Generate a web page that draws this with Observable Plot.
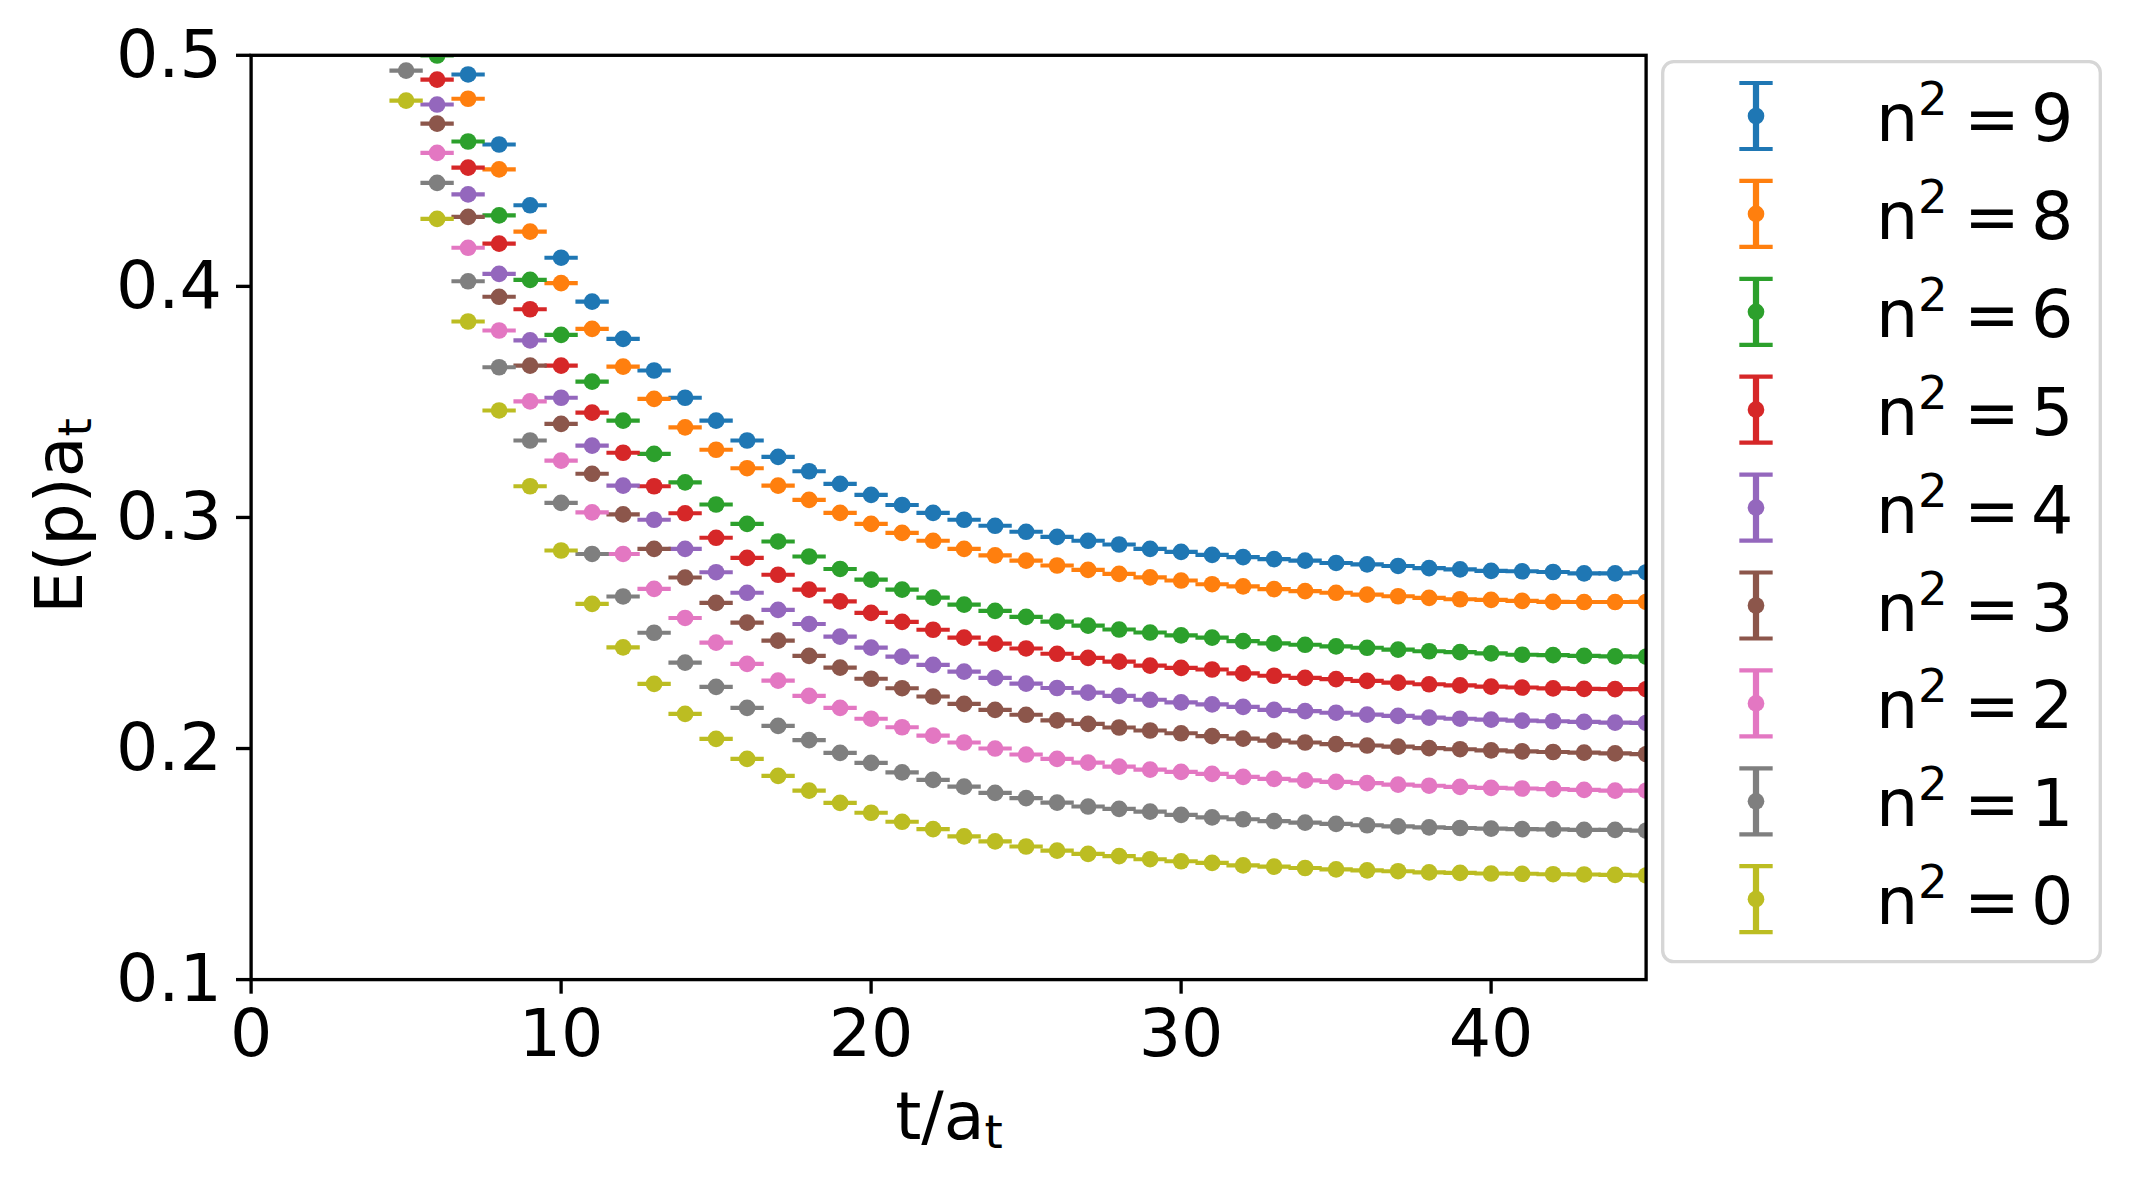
<!DOCTYPE html>
<html><head><meta charset="utf-8">
<script src="https://cdn.jsdelivr.net/npm/d3@7"></script>
<script src="https://cdn.jsdelivr.net/npm/@observablehq/plot@0.6"></script>
<style>html,body{margin:0;padding:0;background:#fff;overflow:hidden}</style>
</head><body><div id="chart"></div>
<script>
// ---- data ----
const labels = ["9","8","6","5","4","3","2","1","0"];
const colors = ["#1f77b4","#ff7f0e","#2ca02c","#d62728","#9467bd","#8c564b","#e377c2","#7f7f7f","#bcbd22"];
const tStart = [7,7,6,6,6,6,6,5,5];
const e9 = [0.4917,0.4614,0.4351,0.4124,0.3934,0.3773,0.3636,0.3518,0.3419,0.3333,0.3262,0.3200,0.3145,0.3098,0.3054,0.3020,0.2990,0.2964,0.2938,0.2916,0.2899,0.2883,0.2864,0.2851,0.2838,0.2828,0.2820,0.2813,0.2803,0.2797,0.2790,0.2781,0.2775,0.2769,0.2767,0.2764,0.2758,0.2758,0.2763];
const e8 = [0.4812,0.4506,0.4237,0.4014,0.3816,0.3653,0.3513,0.3390,0.3293,0.3213,0.3138,0.3076,0.3020,0.2972,0.2933,0.2899,0.2864,0.2836,0.2813,0.2792,0.2773,0.2756,0.2741,0.2727,0.2711,0.2702,0.2690,0.2681,0.2674,0.2666,0.2659,0.2652,0.2646,0.2643,0.2639,0.2635,0.2634,0.2634,0.2635];
const e6 = [0.4999,0.4627,0.4307,0.4028,0.3790,0.3588,0.3419,0.3275,0.3152,0.3056,0.2972,0.2896,0.2831,0.2777,0.2731,0.2688,0.2653,0.2623,0.2596,0.2570,0.2549,0.2532,0.2515,0.2502,0.2490,0.2480,0.2465,0.2455,0.2449,0.2442,0.2436,0.2428,0.2421,0.2417,0.2412,0.2406,0.2404,0.2401,0.2399,0.2398];
const e5 = [0.4895,0.4514,0.4185,0.3901,0.3657,0.3454,0.3280,0.3135,0.3018,0.2912,0.2825,0.2752,0.2688,0.2637,0.2587,0.2548,0.2514,0.2480,0.2454,0.2433,0.2410,0.2392,0.2376,0.2359,0.2349,0.2342,0.2325,0.2315,0.2306,0.2300,0.2293,0.2285,0.2278,0.2273,0.2268,0.2264,0.2260,0.2258,0.2257,0.2257];
const e4 = [0.4787,0.4398,0.4054,0.3766,0.3518,0.3311,0.3138,0.2990,0.2864,0.2763,0.2674,0.2600,0.2539,0.2484,0.2437,0.2398,0.2362,0.2333,0.2306,0.2281,0.2262,0.2242,0.2228,0.2211,0.2200,0.2191,0.2180,0.2167,0.2162,0.2155,0.2147,0.2141,0.2134,0.2129,0.2125,0.2121,0.2118,0.2115,0.2112,0.2111];
const e3 = [0.4704,0.4301,0.3955,0.3657,0.3405,0.3189,0.3013,0.2864,0.2740,0.2630,0.2545,0.2467,0.2401,0.2350,0.2302,0.2261,0.2225,0.2193,0.2167,0.2146,0.2122,0.2107,0.2091,0.2078,0.2066,0.2054,0.2043,0.2034,0.2026,0.2019,0.2013,0.2008,0.2002,0.1997,0.1992,0.1988,0.1985,0.1982,0.1979,0.1976];
const e2 = [0.4578,0.4167,0.3809,0.3502,0.3246,0.3022,0.2842,0.2691,0.2565,0.2458,0.2366,0.2294,0.2228,0.2176,0.2129,0.2092,0.2056,0.2026,0.2000,0.1974,0.1955,0.1939,0.1922,0.1909,0.1899,0.1890,0.1877,0.1869,0.1862,0.1856,0.1850,0.1844,0.1839,0.1834,0.1830,0.1827,0.1824,0.1821,0.1818,0.1818];
const e1 = [0.4934,0.4448,0.4022,0.3650,0.3333,0.3063,0.2842,0.2658,0.2501,0.2372,0.2267,0.2176,0.2098,0.2036,0.1981,0.1938,0.1897,0.1864,0.1835,0.1808,0.1785,0.1766,0.1749,0.1739,0.1727,0.1713,0.1702,0.1694,0.1686,0.1679,0.1674,0.1668,0.1663,0.1659,0.1656,0.1653,0.1651,0.1650,0.1648,0.1648,0.1645];
const e0 = [0.4804,0.4292,0.3848,0.3463,0.3135,0.2857,0.2626,0.2438,0.2280,0.2150,0.2042,0.1955,0.1882,0.1818,0.1765,0.1722,0.1683,0.1651,0.1620,0.1598,0.1576,0.1558,0.1544,0.1534,0.1521,0.1512,0.1505,0.1494,0.1489,0.1483,0.1477,0.1473,0.1469,0.1464,0.1462,0.1459,0.1458,0.1456,0.1455,0.1453,0.1451];
const xTicks = [0,10,20,30,40];
const yTicks = [0.1,0.2,0.3,0.4,0.5];
const xLabel = ["t/a","t"];
const yLabel = ["E(p)a","t"];

// ---- build ----
const series = [e9,e8,e6,e5,e4,e3,e2,e1,e0];
const rows = series.flatMap((vals,i)=>vals.map((v,k)=>({n2:labels[i], t:tStart[i]+k, E:v})));

const W=2129, H=1182, mL=250.6, mR=483.4, mT=54.8, mB=202.9;
const PX = 300/72;
const fs = 16*PX;
const FONT = "DejaVu Sans";

const capSymbol = {draw(ctx,size){const w=Math.sqrt(size/Math.PI); ctx.moveTo(-w,0); ctx.lineTo(w,0);}};

const plot = Plot.plot({
  width:W, height:H, marginLeft:mL, marginRight:mR, marginTop:mT, marginBottom:mB,
  style:{fontFamily:FONT, fontSize:fs+"px", background:"white", color:"black"},
  x:{domain:[0,45]}, y:{domain:[0.1,0.5]},
  color:{domain:labels, range:colors},
  marks:[
    Plot.dot(rows,{x:"t",y:"E",symbol:capSymbol,r:4*PX,stroke:"n2",fill:"none",strokeWidth:1*PX,clip:true}),
    Plot.dot(rows,{x:"t",y:"E",r:2*PX,fill:"n2",stroke:"none",clip:true}),
    Plot.frame({stroke:"black",strokeWidth:0.8*PX}),
    Plot.axisX({ticks:xTicks, tickSize:3.5*PX, tickPadding:3.5*PX, strokeWidth:0.8*PX, fontSize:fs, label:null, tickFormat:d=>String(d)}),
    Plot.axisY({ticks:yTicks, tickSize:3.5*PX, tickPadding:3.5*PX, strokeWidth:0.8*PX, fontSize:fs, label:null, tickFormat:d=>d.toFixed(1)})
  ]
});
document.getElementById("chart").appendChild(plot);

const svg = d3.select(plot);
function labelText(g, parts){
  g.attr("font-family",FONT).attr("font-size",fs).attr("fill","black").attr("text-anchor","middle");
  g.append("tspan").text(parts[0]);
  g.append("tspan").attr("font-size",fs*0.7).attr("dy",9).text(parts[1]);
}
labelText(svg.append("text").attr("transform","translate(81.7,516) rotate(-90)"), yLabel);
labelText(svg.append("text").attr("x",949).attr("y",1139), xLabel);

// legend
const lg = svg.append("g").attr("text-anchor","start");
lg.append("rect").attr("x",1662.7).attr("y",61.7).attr("width",437.6).attr("height",900).attr("rx",11)
  .attr("fill","white").attr("stroke","#d6d6d6").attr("stroke-width",0.8*PX);
labels.forEach((lab,i)=>{
  const cy = 116 + i*97.9, cx = 1756, c = colors[i];
  lg.append("line").attr("x1",cx).attr("x2",cx).attr("y1",cy-33).attr("y2",cy+33).attr("stroke",c).attr("stroke-width",1.5*PX);
  [cy-33, cy+33].forEach(y=>lg.append("line").attr("x1",cx-4*PX).attr("x2",cx+4*PX).attr("y1",y).attr("y2",y).attr("stroke",c).attr("stroke-width",1*PX));
  lg.append("circle").attr("cx",cx).attr("cy",cy).attr("r",2*PX).attr("fill",c);
  const base = cy + 25;
  const t = (x,y,s,size)=>lg.append("text").attr("x",x).attr("y",y).attr("text-anchor","start").attr("font-family",FONT).attr("font-size",size).attr("fill","black").text(s);
  t(1876, base, "n", fs);
  t(1918, base-26, "2", fs*0.7);
  t(1964, base, "=", fs);
  t(2031, base, lab, fs);
});
</script>
</body></html>
